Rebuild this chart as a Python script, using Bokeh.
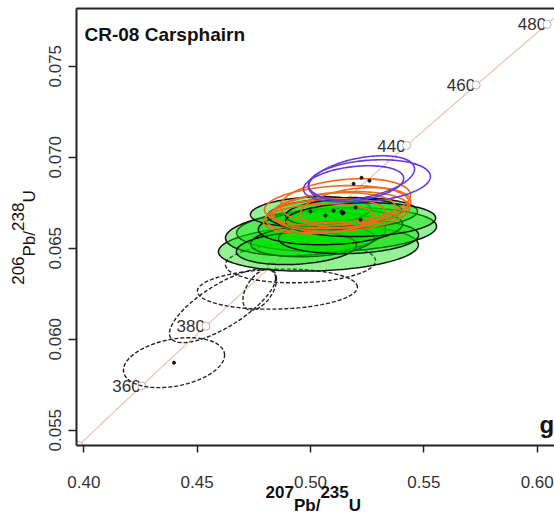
import numpy as np
from bokeh.plotting import figure
from bokeh.models import Range1d, FixedTicker, NumeralTickFormatter, Label, LinearAxis
from bokeh.embed import file_html
from bokeh.resources import INLINE
from bokeh.core.properties import value

# ---------------- data ----------------
# decay constants (1/yr)
L238 = 1.55125e-10
L235 = 9.8485e-10

age_marks = [340, 360, 380, 400, 420, 440, 460, 480, 500]
age_labels = [360, 380, 440, 460, 480]

x_ticks = [0.40, 0.45, 0.50, 0.55, 0.60]
y_ticks = [0.055, 0.060, 0.065, 0.070, 0.075]

# error ellipses: centre 207Pb/235U, centre 206Pb/238U, half-extent x, half-extent y, rho
green_cx = [0.5035, 0.5115, 0.4978, 0.5009, 0.4938, 0.5168, 0.5088, 0.5000, 0.5141, 0.5146, 0.5221]
green_cy = [0.06500, 0.06602, 0.06580, 0.06541, 0.06500, 0.06563, 0.06618, 0.06701, 0.06690, 0.06695, 0.06657]
green_sx = [0.0441, 0.0441, 0.0353, 0.0273, 0.0265, 0.0309, 0.0318, 0.0265, 0.0331, 0.0256, 0.0331]
green_sy = [0.00126, 0.00121, 0.00121, 0.00088, 0.00090, 0.00093, 0.00099, 0.00082, 0.00088, 0.00077, 0.00093]
green_rho = [0.15, 0.15, 0.2, 0.2, 0.2, 0.1, 0.15, 0.2, 0.15, 0.2, 0.1]

orange_cx = [0.5066, 0.5102, 0.5137, 0.5199, 0.5115, 0.5154, 0.5035]
orange_cy = [0.06679, 0.06706, 0.06701, 0.06723, 0.06734, 0.06761, 0.06662]
orange_sx = [0.0265, 0.0273, 0.0300, 0.0243, 0.0318, 0.0287, 0.0243]
orange_sy = [0.00093, 0.00099, 0.00110, 0.00110, 0.00110, 0.00121, 0.00082]
orange_rho = [0.2, 0.2, 0.2, 0.3, 0.2, 0.25, 0.2]

purple_cx = [0.5225, 0.5260, 0.5190]
purple_cy = [0.06887, 0.06871, 0.06854]
purple_sx = [0.0234, 0.0269, 0.0221]
purple_sy = [0.00121, 0.00115, 0.00099]
purple_rho = [0.4, 0.2, 0.3]

dashed_cx = [0.4398, 0.4612, 0.4776, 0.4854, 0.4956]
dashed_cy = [0.05871, 0.06184, 0.06273, 0.06275, 0.06420]
dashed_sx = [0.0223, 0.0234, 0.0074, 0.0353, 0.0331]
dashed_sy = [0.00137, 0.00203, 0.00113, 0.00110, 0.00110]
dashed_rho = [0.3, 0.75, 0.5, 0.1, 0.1]

# centre dots that are visible in the figure
dot_x = dashed_cx[:1] + green_cx[7:] + orange_cx[:4] + purple_cx
dot_y = dashed_cy[:1] + green_cy[7:] + orange_cy[:4] + purple_cy

title_text = "CR-08 Carsphairn"
panel_letter = "g"
x_title_sup = ["207", "235"]
x_title_base = ["Pb/", "U"]
y_title_sup = ["206", "238"]
y_title_base = ["Pb/", "U"]

# ---------------- helpers ----------------
def conc(age_ma):
    t = np.asarray(age_ma, dtype=float) * 1e6
    return np.exp(L235 * t) - 1.0, np.exp(L238 * t) - 1.0

def ellipses(cx, cy, sx, sy, rho, n=160):
    t = np.linspace(0, 2 * np.pi, n)
    xs, ys = [], []
    for a, b, c, d, r in zip(cx, cy, sx, sy, rho):
        xs.append(list(a + c * np.cos(t)))
        ys.append(list(b + d * (r * np.cos(t) + np.sqrt(1 - r * r) * np.sin(t))))
    return xs, ys

W, H = 554, 517
X0, X1 = 0.39678, 0.60763
Y0, Y1 = 0.054159, 0.078170
FL, FR, FT, FB = 76, 554, 8, 445  # frame edges in pixels

def px2x(px):
    return X0 + (px - FL) * (X1 - X0) / (FR - FL)

def py2y(py):
    return Y0 + (FB - py) * (Y1 - Y0) / (FB - FT)

FONT = "Liberation Sans"

# ---------------- figure ----------------
p = figure(width=W, height=H, output_backend="svg", toolbar_location=None,
           x_range=Range1d(X0, X1), y_range=Range1d(Y0, Y1),
           min_border_left=FL, min_border_right=0, min_border_top=FT,
           min_border_bottom=H - FB)
p.grid.visible = False
p.outline_line_color = None
p.background_fill_color = "white"
p.border_fill_color = "white"

for ax in (p.xaxis[0], p.yaxis[0]):
    ax.axis_line_color = "#222222"
    ax.axis_line_width = 2
    ax.major_tick_line_color = "#222222"
    ax.major_tick_line_width = 1.5
    ax.major_tick_in = 0
    ax.minor_tick_line_color = None
    ax.major_label_text_font = FONT
    ax.major_label_text_font_size = "17px"
    ax.major_label_text_color = "#333333"

p.xaxis.ticker = FixedTicker(ticks=x_ticks)
p.xaxis.formatter = NumeralTickFormatter(format="0.00")
p.xaxis.major_tick_out = 7
p.xaxis.major_label_standoff = 23

p.yaxis.ticker = FixedTicker(ticks=y_ticks)
p.yaxis.formatter = NumeralTickFormatter(format="0.000")
p.yaxis.major_tick_out = 8
p.yaxis.major_label_standoff = 7
p.yaxis.major_label_orientation = "parallel"

top = LinearAxis(ticker=FixedTicker(ticks=[]), major_label_text_font_size="0px",
                 major_tick_line_color=None, minor_tick_line_color=None,
                 axis_line_color="#222222", axis_line_width=2,
                 major_label_standoff=0, major_tick_out=0)
p.add_layout(top, "above")

# ---- axis titles built from label-only axes (sub/superscript rows) ----
def title_axis(ticks, labels, standoff, bold, orientation="horizontal"):
    ax = LinearAxis(ticker=FixedTicker(ticks=ticks),
                    major_label_overrides={t: s for t, s in zip(ticks, labels)},
                    axis_line_color=None, major_tick_line_color=None,
                    minor_tick_line_color=None, major_tick_out=0, major_tick_in=0,
                    major_label_standoff=standoff,
                    major_label_text_font=FONT, major_label_text_font_size="17px",
                    major_label_text_font_style="bold" if bold else "normal",
                    major_label_text_color="#111111",
                    major_label_orientation=orientation)
    return ax

# x title: pieces centred at these pixel columns
xs_sup = [px2x(279.2), px2x(334.1)]
xs_base = [px2x(306.7), px2x(354.5)]
p.add_layout(title_axis(xs_sup, x_title_sup, -5, True), "below")
p.add_layout(title_axis(xs_base, x_title_base, -5, True), "below")

# y title: pieces centred at these pixel rows (rotated, reading upward)
ys_base = [py2y(243.2), py2y(195.9)]
ys_sup = [py2y(270.1), py2y(216.2)]
p.add_layout(title_axis(ys_base, y_title_base, 7, False, "parallel"), "left")
p.add_layout(title_axis(ys_sup, y_title_sup, -7, False, "parallel"), "left")

# ---------------- marks ----------------
# concordia
cx_line, cy_line = conc(np.linspace(330, 500, 400))
p.line(cx_line, cy_line, line_color="#ecc3ae", line_width=1.2)

lx, ly = conc(age_labels)
p.text(lx, ly, text=[str(a) for a in age_labels], text_align="right", text_baseline="middle",
       x_offset=-1, text_font=value(FONT), text_font_size="17px", text_color="#333333")
mx, my = conc(age_marks)
p.scatter(mx, my, marker="circle", size=8, fill_color="white", line_color="#b5b5b5", line_width=1)

# dashed ellipses
xs, ys = ellipses(dashed_cx, dashed_cy, dashed_sx, dashed_sy, dashed_rho)
p.patches(xs, ys, fill_color=None, line_color="#222222", line_width=1.4, line_dash="4 2")

# green filled ellipses
xs, ys = ellipses(green_cx, green_cy, green_sx, green_sy, green_rho)
p.patches(xs, ys, fill_color="#00e000", fill_alpha=0.42, line_color="#111111", line_width=1.5)

# orange ellipses
xs, ys = ellipses(orange_cx, orange_cy, orange_sx, orange_sy, orange_rho)
p.patches(xs, ys, fill_color=None, line_color="#f26a1b", line_width=1.6)

# purple ellipses
xs, ys = ellipses(purple_cx, purple_cy, purple_sx, purple_sy, purple_rho)
p.patches(xs, ys, fill_color=None, line_color="#6a3ad6", line_width=1.6)

# centres
p.scatter(dot_x, dot_y, marker="circle", size=3, color="#111111")

# title and panel letter
p.add_layout(Label(x=px2x(84), y=py2y(34), text=title_text, text_font=FONT,
                   text_font_style="bold", text_font_size="19px", text_color="#111111",
                   text_baseline="alphabetic", text_align="left"))
p.add_layout(Label(x=px2x(539), y=py2y(424), text=panel_letter, text_font=FONT,
                   text_font_style="bold", text_font_size="24px", text_color="#111111",
                   text_baseline="alphabetic", text_align="left"))

open("out.html", "w").write(file_html(p, INLINE))
